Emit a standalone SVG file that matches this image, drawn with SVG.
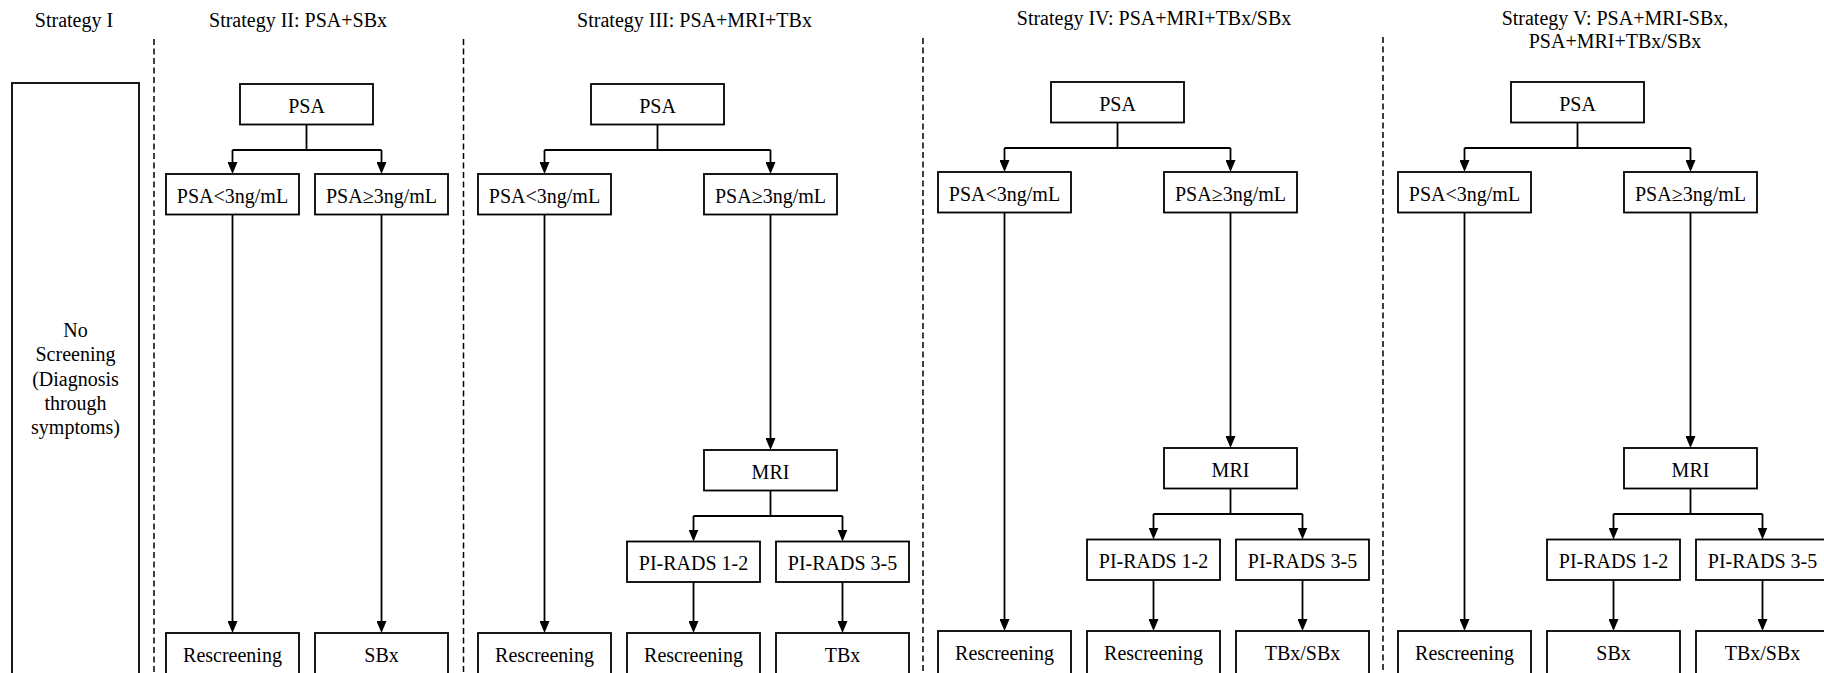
<svg xmlns="http://www.w3.org/2000/svg" width="1824" height="673" viewBox="0 0 1824 673">
<defs>
<style>
text{font-family:"Liberation Serif","Times New Roman",serif;font-size:20px;fill:#000;text-anchor:middle}
.box{fill:#fff;stroke:#000;stroke-width:1.8}
.sep{stroke:#000;stroke-width:1.5;stroke-dasharray:6 3.5;fill:none}
.ln{stroke:#000;stroke-width:1.8;fill:none}
.ar{stroke:#000;stroke-width:1.8;fill:none;marker-end:url(#ah)}
</style>
<marker id="ah" markerUnits="userSpaceOnUse" viewBox="0 0 12 10" refX="6.5" refY="5" markerWidth="12" markerHeight="10" orient="auto">
<path d="M0,0 L12,5 L0,10 z" fill="#000"/>
</marker>
</defs>
<rect width="1824" height="673" fill="#fff"/>

<g id="titles">
<text x="74" y="26.5">Strategy I</text>
<text x="298" y="26.5">Strategy II: PSA+SBx</text>
<text x="694.5" y="26.5">Strategy III: PSA+MRI+TBx</text>
<text x="1154" y="25">Strategy IV: PSA+MRI+TBx/SBx</text>
<text x="1615" y="25">Strategy V: PSA+MRI-SBx,</text>
<text x="1615" y="47.5">PSA+MRI+TBx/SBx</text>
</g>

<g id="separators">
<line class="sep" x1="154" y1="39" x2="154" y2="673"/>
<line class="sep" x1="463.5" y1="39" x2="463.5" y2="673"/>
<line class="sep" x1="923" y1="38" x2="923" y2="673"/>
<line class="sep" x1="1383" y1="37" x2="1383" y2="673"/>
</g>

<g id="connectors">
<!-- Strategy II -->
<path class="ln" d="M306.5,124.5 V150 M232.5,150 H381.5"/>
<path class="ar" d="M232.5,150 V168.5"/>
<path class="ar" d="M381.5,150 V168.5"/>
<path class="ar" d="M232.5,214.5 V627.5"/>
<path class="ar" d="M381.5,214.5 V627.5"/>
<!-- Strategy III -->
<path class="ln" d="M657.5,124.5 V150 M544.5,150 H770.5"/>
<path class="ar" d="M544.5,150 V168.5"/>
<path class="ar" d="M770.5,150 V168.5"/>
<path class="ar" d="M544.5,214.5 V627.5"/>
<path class="ar" d="M770.5,214.5 V444.5"/>
<path class="ln" d="M770.5,490.5 V516 M693.5,516 H842.5"/>
<path class="ar" d="M693.5,516 V536"/>
<path class="ar" d="M842.5,516 V536"/>
<path class="ar" d="M693.5,582 V627.5"/>
<path class="ar" d="M842.5,582 V627.5"/>
<!-- Strategy IV -->
<path class="ln" d="M1117.5,122.5 V148 M1004.5,148 H1230.5"/>
<path class="ar" d="M1004.5,148 V166.5"/>
<path class="ar" d="M1230.5,148 V166.5"/>
<path class="ar" d="M1004.5,212.5 V625.5"/>
<path class="ar" d="M1230.5,212.5 V442.5"/>
<path class="ln" d="M1230.5,488.5 V514 M1153.5,514 H1302.5"/>
<path class="ar" d="M1153.5,514 V534"/>
<path class="ar" d="M1302.5,514 V534"/>
<path class="ar" d="M1153.5,580 V625.5"/>
<path class="ar" d="M1302.5,580 V625.5"/>
<!-- Strategy V -->
<path class="ln" d="M1577.5,122.5 V148 M1464.5,148 H1690.5"/>
<path class="ar" d="M1464.5,148 V166.5"/>
<path class="ar" d="M1690.5,148 V166.5"/>
<path class="ar" d="M1464.5,212.5 V625.5"/>
<path class="ar" d="M1690.5,212.5 V442.5"/>
<path class="ln" d="M1690.5,488.5 V514 M1613.5,514 H1762.5"/>
<path class="ar" d="M1613.5,514 V534"/>
<path class="ar" d="M1762.5,514 V534"/>
<path class="ar" d="M1613.5,580 V625.5"/>
<path class="ar" d="M1762.5,580 V625.5"/>
</g>

<!-- Strategy I -->
<g id="s1-noscreening">
<rect class="box" x="12" y="83" width="127" height="620"/>
<text x="75.5" y="337">No</text>
<text x="75.5" y="361.3">Screening</text>
<text x="75.5" y="385.6">(Diagnosis</text>
<text x="75.5" y="409.9">through</text>
<text x="75.5" y="434.2">symptoms)</text>
</g>

<!-- Strategy II -->
<g id="s2-psa"><rect class="box" x="240" y="84" width="133" height="40.5"/><text x="306.5" y="112.5">PSA</text></g>
<g id="s2-low"><rect class="box" x="166" y="174" width="133" height="40.5"/><text x="232.5" y="202.5">PSA&lt;3ng/mL</text></g>
<g id="s2-high"><rect class="box" x="315" y="174" width="133" height="40.5"/><text x="381.5" y="202.5">PSA≥3ng/mL</text></g>
<g id="s2-rescreen"><rect class="box" x="166" y="633" width="133" height="60"/><text x="232.5" y="661.5">Rescreening</text></g>
<g id="s2-sbx"><rect class="box" x="315" y="633" width="133" height="60"/><text x="381.5" y="661.5">SBx</text></g>

<!-- Strategy III -->
<g id="s3-psa"><rect class="box" x="591" y="84" width="133" height="40.5"/><text x="657.5" y="112.5">PSA</text></g>
<g id="s3-low"><rect class="box" x="478" y="174" width="133" height="40.5"/><text x="544.5" y="202.5">PSA&lt;3ng/mL</text></g>
<g id="s3-high"><rect class="box" x="704" y="174" width="133" height="40.5"/><text x="770.5" y="202.5">PSA≥3ng/mL</text></g>
<g id="s3-mri"><rect class="box" x="704" y="450" width="133" height="40.5"/><text x="770.5" y="478.5">MRI</text></g>
<g id="s3-pi12"><rect class="box" x="627" y="541.5" width="133" height="40.5"/><text x="693.5" y="570">PI-RADS 1-2</text></g>
<g id="s3-pi35"><rect class="box" x="776" y="541.5" width="133" height="40.5"/><text x="842.5" y="570">PI-RADS 3-5</text></g>
<g id="s3-rescreen1"><rect class="box" x="478" y="633" width="133" height="60"/><text x="544.5" y="661.5">Rescreening</text></g>
<g id="s3-rescreen2"><rect class="box" x="627" y="633" width="133" height="60"/><text x="693.5" y="661.5">Rescreening</text></g>
<g id="s3-tbx"><rect class="box" x="776" y="633" width="133" height="60"/><text x="842.5" y="661.5">TBx</text></g>

<!-- Strategy IV -->
<g id="s4-psa"><rect class="box" x="1051" y="82" width="133" height="40.5"/><text x="1117.5" y="110.5">PSA</text></g>
<g id="s4-low"><rect class="box" x="938" y="172" width="133" height="40.5"/><text x="1004.5" y="200.5">PSA&lt;3ng/mL</text></g>
<g id="s4-high"><rect class="box" x="1164" y="172" width="133" height="40.5"/><text x="1230.5" y="200.5">PSA≥3ng/mL</text></g>
<g id="s4-mri"><rect class="box" x="1164" y="448" width="133" height="40.5"/><text x="1230.5" y="476.5">MRI</text></g>
<g id="s4-pi12"><rect class="box" x="1087" y="539.5" width="133" height="40.5"/><text x="1153.5" y="568">PI-RADS 1-2</text></g>
<g id="s4-pi35"><rect class="box" x="1236" y="539.5" width="133" height="40.5"/><text x="1302.5" y="568">PI-RADS 3-5</text></g>
<g id="s4-rescreen1"><rect class="box" x="938" y="631" width="133" height="60"/><text x="1004.5" y="659.5">Rescreening</text></g>
<g id="s4-rescreen2"><rect class="box" x="1087" y="631" width="133" height="60"/><text x="1153.5" y="659.5">Rescreening</text></g>
<g id="s4-tbxsbx"><rect class="box" x="1236" y="631" width="133" height="60"/><text x="1302.5" y="659.5">TBx/SBx</text></g>

<!-- Strategy V -->
<g id="s5-psa"><rect class="box" x="1511" y="82" width="133" height="40.5"/><text x="1577.5" y="110.5">PSA</text></g>
<g id="s5-low"><rect class="box" x="1398" y="172" width="133" height="40.5"/><text x="1464.5" y="200.5">PSA&lt;3ng/mL</text></g>
<g id="s5-high"><rect class="box" x="1624" y="172" width="133" height="40.5"/><text x="1690.5" y="200.5">PSA≥3ng/mL</text></g>
<g id="s5-mri"><rect class="box" x="1624" y="448" width="133" height="40.5"/><text x="1690.5" y="476.5">MRI</text></g>
<g id="s5-pi12"><rect class="box" x="1547" y="539.5" width="133" height="40.5"/><text x="1613.5" y="568">PI-RADS 1-2</text></g>
<g id="s5-pi35"><rect class="box" x="1696" y="539.5" width="133" height="40.5"/><text x="1762.5" y="568">PI-RADS 3-5</text></g>
<g id="s5-rescreen"><rect class="box" x="1398" y="631" width="133" height="60"/><text x="1464.5" y="659.5">Rescreening</text></g>
<g id="s5-sbx"><rect class="box" x="1547" y="631" width="133" height="60"/><text x="1613.5" y="659.5">SBx</text></g>
<g id="s5-tbxsbx"><rect class="box" x="1696" y="631" width="133" height="60"/><text x="1762.5" y="659.5">TBx/SBx</text></g>
</svg>
